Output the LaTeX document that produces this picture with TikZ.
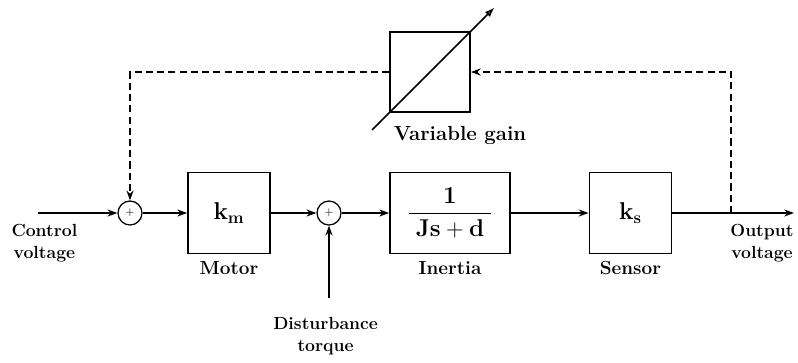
\documentclass[tikz,border=0pt]{standalone}
\usepackage{amsmath}
\usepackage{tikz}
\usetikzlibrary{arrows.meta, positioning, calc}

\begin{document}
\begin{tikzpicture}[
    block/.style={rectangle, draw, line width=1.2pt, minimum width=2.05cm, minimum height=2.025cm, font=\LARGE\bfseries},
    sum/.style={circle, draw, line width=0.9pt, minimum size=0.6cm, inner sep=0pt, font=\footnotesize},
    lbl/.style={font=\fontsize{12.5}{16}\selectfont\bfseries, align=center},
    sig/.style={line width=0.8pt, -{Stealth[length=7pt, width=5pt]}},
    fb/.style={sig, dash pattern=on 5pt off 3pt, line width=1pt}
]
\useasboundingbox (0,0) rectangle (19.95,9.05);

% Forward path
\coordinate (in) at (0.95,3.725);
\node[sum] (sum1) at (3.25,3.725) {$+$};
\node[block] (motor) at (5.725,3.725) {$\mathbf{k_m}$};
\node[sum] (sum2) at (8.225,3.725) {$+$};
\node[block, minimum width=3cm] (inertia) at (11.25,3.725) {$\dfrac{\mathbf{1}}{\;\mathbf{Js+d}\;}$};
\node[block] (sensor) at (15.76,3.725) {$\mathbf{k_s}$};
\coordinate (tap) at (18.275,3.725);
\coordinate (out) at (19.85,3.725);
\coordinate (dist) at (8.225,1.6);

\node[lbl, font=\fontsize{13.5}{15}\selectfont\bfseries] (motorlbl) at (5.725,2.35) {Motor};
\node[lbl, font=\fontsize{13.5}{15}\selectfont\bfseries] (inertialbl) at (11.25,2.35) {Inertia};
\node[lbl, font=\fontsize{13.5}{15}\selectfont\bfseries] (sensorlbl) at (15.76,2.35) {Sensor};
\node[lbl] (inlbl) at (1.11,2.975) {Control\\voltage};
\node[lbl] (outlbl) at (19.05,2.975) {Output\\voltage};
\node[lbl] (distlbl) at (8.14,0.65) {Disturbance\\torque};

\draw[sig] (in) -- (sum1);
\draw[sig] (sum1) -- (motor);
\draw[sig] (motor) -- (sum2);
\draw[sig] (sum2) -- (inertia);
\draw[sig] (inertia) -- (sensor);
\draw[sig] (sensor) -- (out);
\draw[sig] (dist) -- (sum2);

% Variable gain
\node[block, minimum width=2cm, minimum height=2cm] (gain) at (10.75,7.25) {};
\node[lbl, font=\fontsize{14.5}{16}\selectfont\bfseries] (gainlbl) at (11.5,5.675) {Variable gain};
\coordinate (gstart) at ($(gain.south west)!-0.21!(gain.north east)$);
\coordinate (gend) at ($(gain.south west)!1.29!(gain.north east)$);
\draw[line width=1.2pt, -{Latex[open, length=7pt, width=5pt]}] (gstart) -- (gend);

% Feedback
\draw[fb] (tap) |- (gain.east);
\draw[fb] (gain.west) -| (sum1.north);

\end{tikzpicture}
\end{document}
